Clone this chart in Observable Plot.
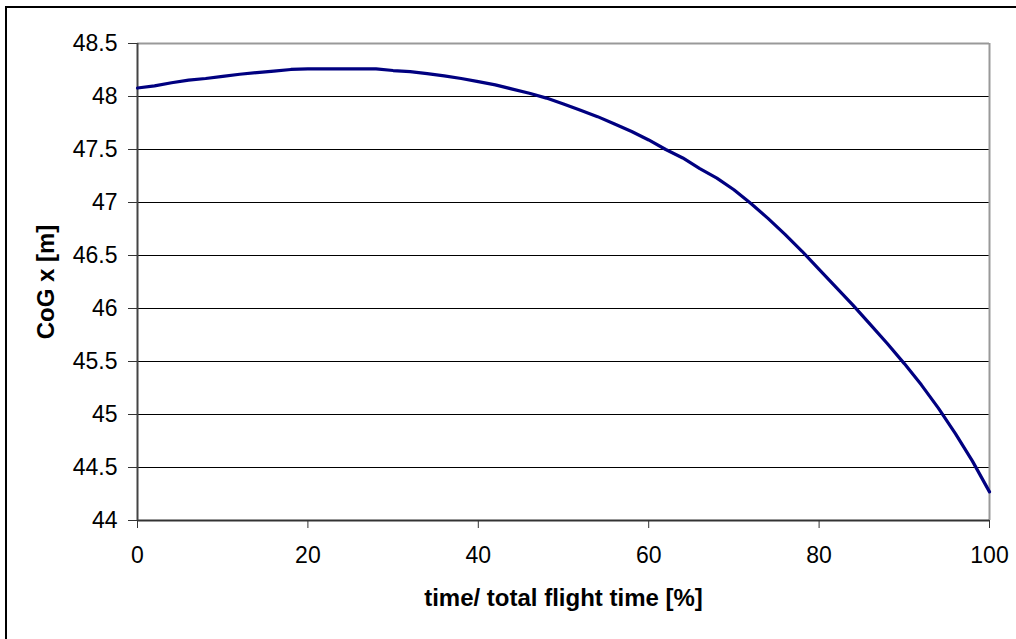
<!DOCTYPE html>
<html>
<head>
<meta charset="utf-8">
<script src="https://cdn.jsdelivr.net/npm/d3@7"></script>
<script src="https://cdn.jsdelivr.net/npm/@observablehq/plot@0.6"></script>
<style>
  html, body { margin: 0; padding: 0; background: #fff; overflow: hidden; }
  #wrap { position: relative; width: 1016px; height: 639px; overflow: hidden; }
  #border { position: absolute; left: 5px; top: 6px; width: 1100px; height: 700px; border-left: 2px solid #000; border-top: 2px solid #000; box-sizing: border-box; pointer-events: none; }
  #chart { position: absolute; left: 0; top: 0; }
</style>
</head>
<body>
<div id="wrap"><div id="chart"></div><div id="border"></div></div>
<script>
const timePct = [0, 2, 4, 6, 8, 10, 12, 14, 16, 18, 20, 24, 28, 30, 32, 34, 36, 38, 40, 42, 44, 46, 48, 50, 52, 54, 56, 58, 60, 62, 64, 66, 68, 70, 72, 74, 76, 78, 80, 82, 84, 86, 88, 90, 92, 94, 96, 98, 100];
const cogX = [48.08, 48.10, 48.13, 48.155, 48.17, 48.19, 48.21, 48.225, 48.24, 48.255, 48.26, 48.26, 48.26, 48.245, 48.235, 48.215, 48.195, 48.17, 48.14, 48.11, 48.07, 48.03, 47.985, 47.93, 47.87, 47.81, 47.74, 47.67, 47.59, 47.50, 47.42, 47.32, 47.23, 47.12, 46.99, 46.85, 46.70, 46.54, 46.37, 46.20, 46.03, 45.85, 45.67, 45.48, 45.28, 45.06, 44.82, 44.56, 44.27];
const yTicks = [44, 44.5, 45, 45.5, 46, 46.5, 47, 47.5, 48, 48.5];
const yTickLabels = ["44", "44.5", "45", "45.5", "46", "46.5", "47", "47.5", "48", "48.5"];
const xTicks = [0, 20, 40, 60, 80, 100];
const xTitle = "time/ total flight time [%]";
const yTitle = "CoG x [m]";

const data = timePct.map((t, i) => ({t, v: cogX[i]}));
const innerGrid = yTicks.slice(1, -1);

const chart = Plot.plot({
  width: 1016,
  height: 639,
  marginLeft: 137,
  marginRight: 27,
  marginTop: 43,
  marginBottom: 119,
  style: { fontFamily: "Arial, 'Liberation Sans', sans-serif", fontSize: "23px", color: "#000", background: "transparent" },
  x: { domain: [0, 100] },
  y: { domain: [44, 48.5] },
  marks: [
    Plot.ruleY(innerGrid, { stroke: "#000", strokeWidth: 1 }),
    Plot.ruleY([yTicks[yTicks.length - 1]], { stroke: "#999", strokeWidth: 2 }),
    Plot.ruleX([xTicks[xTicks.length - 1]], { stroke: "#999", strokeWidth: 2 }),
    Plot.ruleY([yTicks[0]], { stroke: "#333", strokeWidth: 2 }),
    Plot.ruleX([xTicks[0]], { stroke: "#444", strokeWidth: 2 }),
    Plot.axisY(yTicks, {
      tickFormat: (d) => yTickLabels[yTicks.indexOf(d)],
      tickSize: 9, tickPadding: 11, stroke: "#333", label: null, fontSize: 23
    }),
    Plot.axisX(xTicks, {
      tickFormat: (d) => String(d),
      tickSize: 8, tickPadding: 18, stroke: "#333", label: null, fontSize: 23
    }),
    Plot.line(data, { x: "t", y: "v", stroke: "#000080", strokeWidth: 3.2 }),
    Plot.text([yTitle], { frameAnchor: "left", textAnchor: "middle", rotate: -90, dx: -91, fontWeight: "bold", fontSize: 24 }),
    Plot.text([xTitle], { frameAnchor: "bottom", textAnchor: "middle", dy: 85, fontWeight: "bold", fontSize: 24 })
  ]
});
document.getElementById("chart").appendChild(chart);
</script>
</body>
</html>
